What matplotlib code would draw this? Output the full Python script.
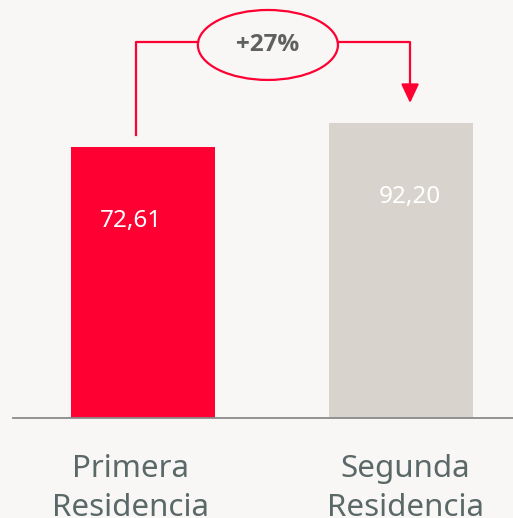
import matplotlib
matplotlib.use("Agg")
import matplotlib.pyplot as plt
from matplotlib.patches import Ellipse

categories = ["Primera\nResidencia", "Segunda\nResidencia"]
values = [72.61, 92.20]
value_labels = ["72,61", "92,20"]
change_label = "+27%"

RED = "#ff0033"
BEIGE = "#d8d3cd"
BG = "#f8f7f5"
GREY_TXT = "#5b6868"

plt.rcParams['font.family'] = ['Noto Sans', 'DejaVu Sans']

fig = plt.figure(figsize=(5.13, 5.18), dpi=100, facecolor=BG)
ax = fig.add_axes([13 / 513, 100 / 518, 500 / 513, 418 / 518])
ax.set_facecolor(BG)

# the value axis is cut, bars start at this base
base = -148.6
x = list(range(len(values)))
ax.bar(x, [v - base for v in values], bottom=base, width=0.558, color=[RED, BEIGE], zorder=2)

ax.set_ylim(base, 192.6)
ax.set_xlim(-0.504, 1.434)

# texts in the original sit a bit off the bar centres
val_shift = [-0.047, 0.035]
cat_shift = [-0.047, 0.016]
for xi, v, lab, dx in zip(x, values, value_labels, val_shift):
    ax.text(xi + dx, v - 60, lab, ha='center', va='center', color='white', fontsize=17.5)

ax.set_xticks([xi + dx for xi, dx in zip(x, cat_shift)])
ax.set_xticklabels(categories)
ax.tick_params(axis='x', length=0, pad=26, labelsize=22.5, labelcolor=GREY_TXT)
for t in ax.get_xticklabels():
    t.set_linespacing(1.4)
ax.set_yticks([])
for s in ['top', 'left', 'right']:
    ax.spines[s].set_visible(False)
ax.spines['bottom'].set_color('#8a8a8a')
ax.spines['bottom'].set_linewidth(1.3)

# growth connector
top_y = 158.3
ell_x, ell_w, ell_h = 0.484, 0.543, 57.1
lx, rx = -0.027, 1.035
ax.plot([lx, lx, ell_x - ell_w / 2], [values[0] + 9.8, top_y, top_y], color=RED, lw=1.6, clip_on=False)
ax.plot([ell_x + ell_w / 2, rx, rx], [top_y, top_y, values[1] + 30], color=RED, lw=1.6, clip_on=False)
ax.annotate('', xy=(rx, values[1] + 16.3), xytext=(rx, values[1] + 31),
            arrowprops=dict(arrowstyle='-|>,head_length=1.15,head_width=0.54', color=RED, lw=1.6,
                            shrinkA=0, shrinkB=0))
ax.add_patch(Ellipse((ell_x, 155.9), ell_w, ell_h, facecolor=BG, edgecolor=RED, lw=1.6, clip_on=False))
ax.text(ell_x, 155.9, change_label, ha='center', va='center', color='#5f6060', fontsize=17.5,
        fontweight='bold', family=['Open Sans', 'DejaVu Sans'])

fig.savefig("out.png", dpi=100, facecolor=BG)
